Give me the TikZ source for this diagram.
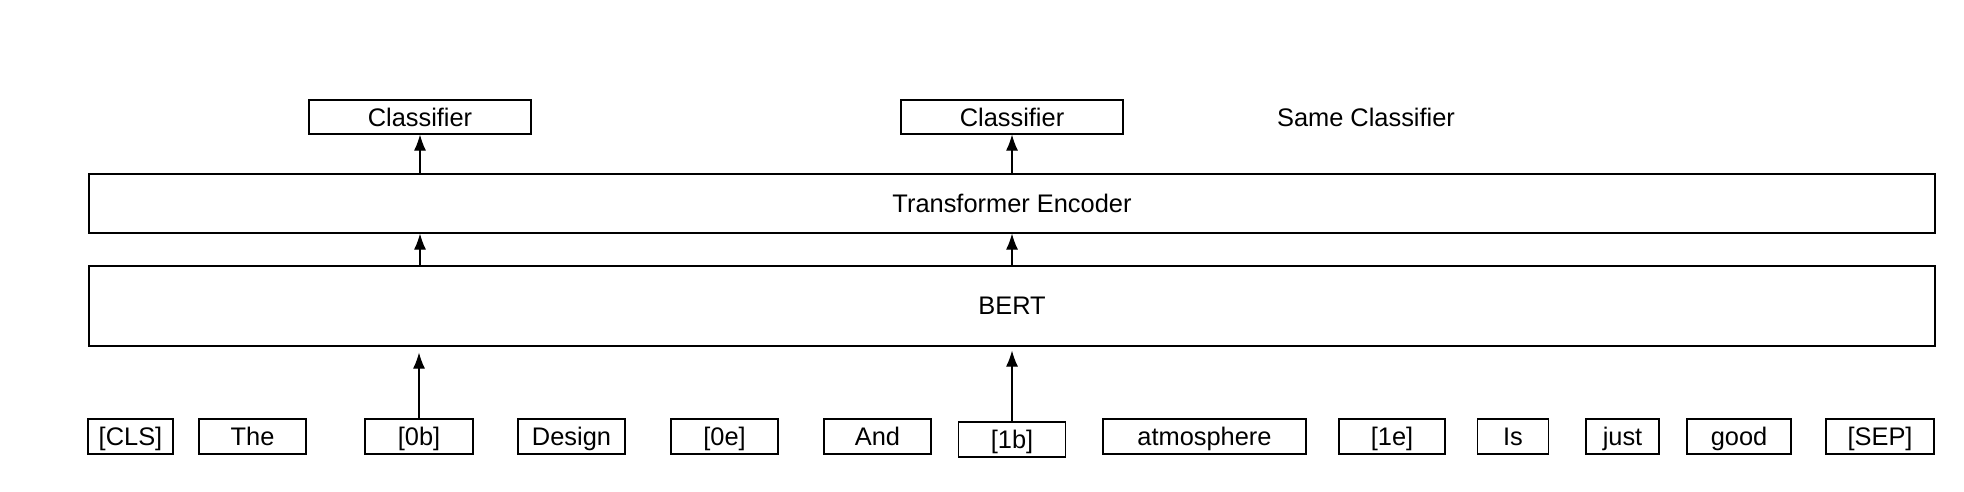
\documentclass[tikz,border=0pt]{standalone}
\usepackage{fontspec}
\setmainfont{Liberation Sans}
\usetikzlibrary{arrows.meta}

\begin{document}
\begin{tikzpicture}[x=0.5pt,y=-0.5pt,
    font=\fontsize{12.7}{15}\selectfont,
    box/.style={draw,line width=0.6pt,inner sep=0pt,minimum width=#1},
    word/.style={box=#1,minimum height=17.5pt,text height=10.5pt,text depth=1.4pt},
    uparrow/.style={-{Latex[length=8pt,width=6pt]},line width=0.6pt}]
   \useasboundingbox (0,0) rectangle (1964,492);
   % classifiers
   \node[box=111pt,minimum height=17pt] (cls_a) at (420,117) {Classifier};
   \node[box=111pt,minimum height=17pt] (cls_b) at (1012,117) {Classifier};
   \node (same) at (1366,117) {Same Classifier};
   % encoder and bert
   \node[box=923pt,minimum height=29.5pt] (enc)  at (1012,203.5) {Transformer Encoder};
   \node[box=923pt,minimum height=40pt]   (bert) at (1012,306) {BERT};
   % input tokens
   \node[word=42.5pt]  (w_0)  at (130.5,436.5) {[CLS]};
   \node[word=53.5pt]  (w_1)  at (252.5,436.5) {The};
   \node[word=54pt]    (w_2)  at (419,436.5)   {[0b]};
   \node[word=53.5pt]  (w_3)  at (571.5,436.5) {Design};
   \node[word=53.5pt]  (w_4)  at (724.5,436.5) {[0e]};
   \node[word=53.5pt]  (w_5)  at (877.5,436.5) {And};
   \node[word=53.5pt]  (w_6)  at (1012,439.5) {[1b]};
   \node[word=101.5pt] (w_7)  at (1204.5,436.5) {atmosphere};
   \node[word=53pt]    (w_8)  at (1392,436.5)  {[1e]};
   \node[word=35.5pt]  (w_9)  at (1513,436.5)  {Is};
   \node[word=36.5pt]  (w_10) at (1622.5,436.5) {just};
   \node[word=52pt]    (w_11) at (1739,436.5)  {good};
   \node[word=54pt]    (w_12) at (1880,436.5)  {[SEP]};
   % arrows
   \draw[uparrow,shorten >=3pt] (w_2.north) -- (w_2.north |- bert.south);
   \draw[uparrow,shorten >=2pt] (w_6.north) -- (w_6.north |- bert.south);
   \draw[uparrow] (cls_a |- bert.north) -- (cls_a |- enc.south);
   \draw[uparrow] (cls_b |- bert.north) -- (cls_b |- enc.south);
   \draw[uparrow] (cls_a |- enc.north) -- (cls_a.south);
   \draw[uparrow] (cls_b |- enc.north) -- (cls_b.south);
\end{tikzpicture}
\end{document}
